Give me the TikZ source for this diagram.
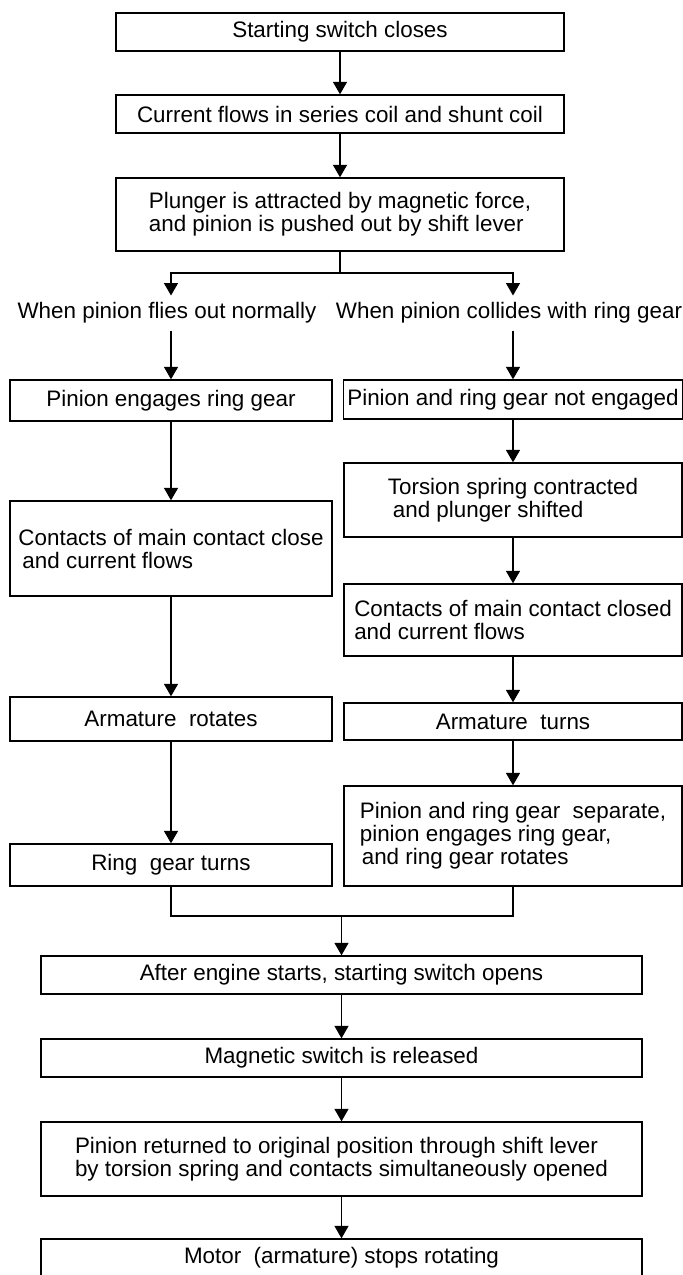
\documentclass[tikz,border=0pt]{standalone}
\usepackage{fontspec}
\setmainfont{Liberation Sans}
\usepackage{tikz}
\usetikzlibrary{arrows.meta}

\begin{document}
\begin{tikzpicture}
  [x=0.5pt,y=-0.5pt,font=\fontsize{11.2}{11.5}\selectfont,
   box/.style={draw,rectangle,line width=0.7pt,inner xsep=2pt,align=left},
   mainbox/.style={box,minimum width=224pt},
   leftbox/.style={box,minimum width=161pt},
   rightbox/.style={box,minimum width=169pt},
   lowbox/.style={box,minimum width=300.5pt},
   conn/.style={line width=0.55pt},
   arrconn/.style={conn,-{Triangle[length=6.2pt,width=7pt]}}]
  \useasboundingbox (0,0) rectangle (683,1275);

  \node[mainbox,minimum height=19pt] (n1) at (340,32) {Starting switch closes};
  \node[mainbox,minimum height=19pt] (n2) at (340,114) {Current flows in series coil and shunt coil};
  \node[mainbox,minimum height=36.5pt] (n3) at (340,214.5) {Plunger is attracted by magnetic force,\\and pinion is pushed out by shift lever};

  \node[inner xsep=0pt] (t1) at (167,313) {When pinion flies out normally};
  \node[inner xsep=0pt] (t2) at (509,313) {When pinion collides with ring gear};

  \node[leftbox,minimum height=20.5pt] (l1) at (171,400.5) {Pinion engages ring gear};
  \node[leftbox,minimum height=47.5pt] (l2) at (171,548.5) {Contacts of main contact close\\\hspace*{2pt}and current flows};
  \node[leftbox,minimum height=22pt] (l3) at (171,719) {Armature\ \ rotates};
  \node[leftbox,minimum height=21pt] (l4) at (171,865) {Ring\ \ gear turns};

  \node[rightbox,minimum height=19.5pt] (r1) at (513,399.5) {Pinion and ring gear not engaged};
  \node[rightbox,minimum height=37pt] (r2) at (513,500) {Torsion spring contracted\\\hspace*{2.5pt}and plunger shifted};
  \node[rightbox,minimum height=36pt] (r3) at (513,620) {Contacts of main contact closed\\and current flows};
  \node[rightbox,minimum height=18.5pt] (r4) at (513,721.5) {Armature\ \ turns};
  \node[rightbox,minimum height=50pt] (r5) at (513,836) {Pinion and ring gear\ \ separate,\\pinion engages ring gear,\\\hspace*{1pt}and ring gear rotates};

  \node[lowbox,minimum height=19pt] (b1) at (341.5,975) {After engine starts, starting switch opens};
  \node[lowbox,minimum height=19pt] (b2) at (341.5,1058) {Magnetic switch is released};
  \node[lowbox,minimum height=37pt] (b3) at (341.5,1159) {Pinion returned to original position through shift lever\\by torsion spring and contacts simultaneously opened};
  \node[lowbox,minimum height=19pt] (b4) at (341.5,1258) {Motor\ \ (armature) stops rotating};

  \coordinate (split) at (340,273);
  \coordinate (join) at (341.5,916);

  % branch into the two cases
  \draw[conn] (n3) -- (split);
  \draw[arrconn] (split) -| (l1.north |- t1.north);
  \draw[arrconn] (split) -| (r1.north |- t2.north);
  \draw[arrconn] (t1.south -| l1.north) -- (l1);
  \draw[arrconn] (t2.south -| r1.north) -- (r1);

  \foreach \from/\to in {n1/n2,n2/n3,l1/l2,l2/l3,l3/l4,r1/r2,r2/r3,r3/r4,r4/r5,b1/b2,b2/b3,b3/b4}
    \draw[arrconn] (\from) -- (\to);

  % both cases meet again
  \draw[conn] (l4) |- (join) -| (r5);
  \draw[arrconn] (join) -- (b1);

\end{tikzpicture}
\end{document}
